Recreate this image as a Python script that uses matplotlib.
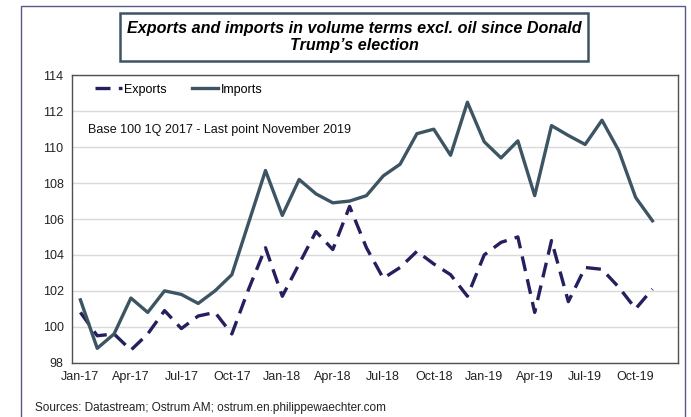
import matplotlib
matplotlib.use("Agg")
import matplotlib.pyplot as plt
import matplotlib.patches as mpatches

plt.rcParams['font.family'] = ['Liberation Sans', 'DejaVu Sans']

months = ['Jan-17', 'Feb-17', 'Mar-17', 'Apr-17', 'May-17', 'Jun-17', 'Jul-17', 'Aug-17',
          'Sep-17', 'Oct-17', 'Nov-17', 'Dec-17', 'Jan-18', 'Feb-18', 'Mar-18', 'Apr-18',
          'May-18', 'Jun-18', 'Jul-18', 'Aug-18', 'Sep-18', 'Oct-18', 'Nov-18', 'Dec-18',
          'Jan-19', 'Feb-19', 'Mar-19', 'Apr-19', 'May-19', 'Jun-19', 'Jul-19', 'Aug-19',
          'Sep-19', 'Oct-19', 'Nov-19']

exports = [100.8, 99.5, 99.6, 98.7, 99.6, 100.9, 99.9, 100.6, 100.8, 99.6, 102.1, 104.4,
           101.7, 103.5, 105.3, 104.3, 106.7, 104.4, 102.7, 103.3, 104.2, 103.5, 102.9, 101.7,
           104.0, 104.7, 105.0, 100.8, 104.8, 101.4, 103.3, 103.2, 102.2, 101.0, 102.1]

imports = [101.5, 98.8, 99.6, 101.6, 100.8, 102.0, 101.8, 101.3, 102.0, 102.9, 105.8, 108.7,
           106.2, 108.2, 107.4, 106.9, 107.0, 107.3, 108.4, 109.05, 110.75, 111.0, 109.55, 112.5,
           110.3, 109.4, 110.35, 107.3, 111.2, 110.65, 110.15, 111.5, 109.8, 107.2, 105.9]

tick_labels = months[::3]

x = list(range(len(months)))

fig = plt.figure(figsize=(6.91, 4.17), dpi=100)

# outer frame
fig.patches.append(mpatches.Rectangle((21 / 691, -0.05), 664 / 691, 1 - 6 / 417 + 0.05,
                                      transform=fig.transFigure, fill=False,
                                      edgecolor='#5a5a8a', linewidth=1.0))

ax = fig.add_axes([72 / 691, 1 - 362.7 / 417, 605.7 / 691, 287.4 / 417])

ax.plot(x, exports, color='#241f5e', linewidth=2.4, linestyle=(0, (4.5, 2.5)), label='Exports')
ax.plot(x, imports, color='#3d5462', linewidth=2.4, label='Imports')

ax.set_xlim(-0.5, 35.5)
ax.set_ylim(98, 114)
ax.set_yticks(range(98, 115, 2))
ax.set_xticks(x[::3])
ax.set_xticklabels(tick_labels)
ax.tick_params(axis='both', length=0, labelsize=9, colors='#222222')
ax.tick_params(axis='y', pad=6)
ax.tick_params(axis='x', pad=6)
ax.grid(axis='y', color='#d9d9d9', linewidth=1)
ax.set_axisbelow(True)
for s in ax.spines.values():
    s.set_color('#505050')
    s.set_linewidth(1.0)

ax.legend(loc='upper left', bbox_to_anchor=(0.02, 1.01), ncol=2, frameon=False, fontsize=9,
          handlelength=2.1, handletextpad=0.2, columnspacing=2.0)

ax.text(0.026, 0.81, 'Base 100 1Q 2017 - Last point November 2019', transform=ax.transAxes,
        fontsize=9, color='#111111', va='center')

# title box
fig.patches.append(mpatches.Rectangle((120 / 691, 1 - 61 / 417), 468 / 691, 48 / 417,
                                      transform=fig.transFigure, facecolor='white',
                                      edgecolor='#3d5462', linewidth=1.8))
fig.text(354 / 691, 1 - 37 / 417, "Exports and imports in volume terms excl. oil since Donald\nTrump\u2019s election",
         ha='center', va='center', fontsize=11.6, fontweight='bold', fontstyle='italic',
         linespacing=1.2)

fig.text(35 / 691, 1 - 408 / 417, 'Sources: Datastream; Ostrum AM; ostrum.en.philippewaechter.com',
         fontsize=8.5, color='#222222', va='center')

fig.savefig('out.png', dpi=100)
